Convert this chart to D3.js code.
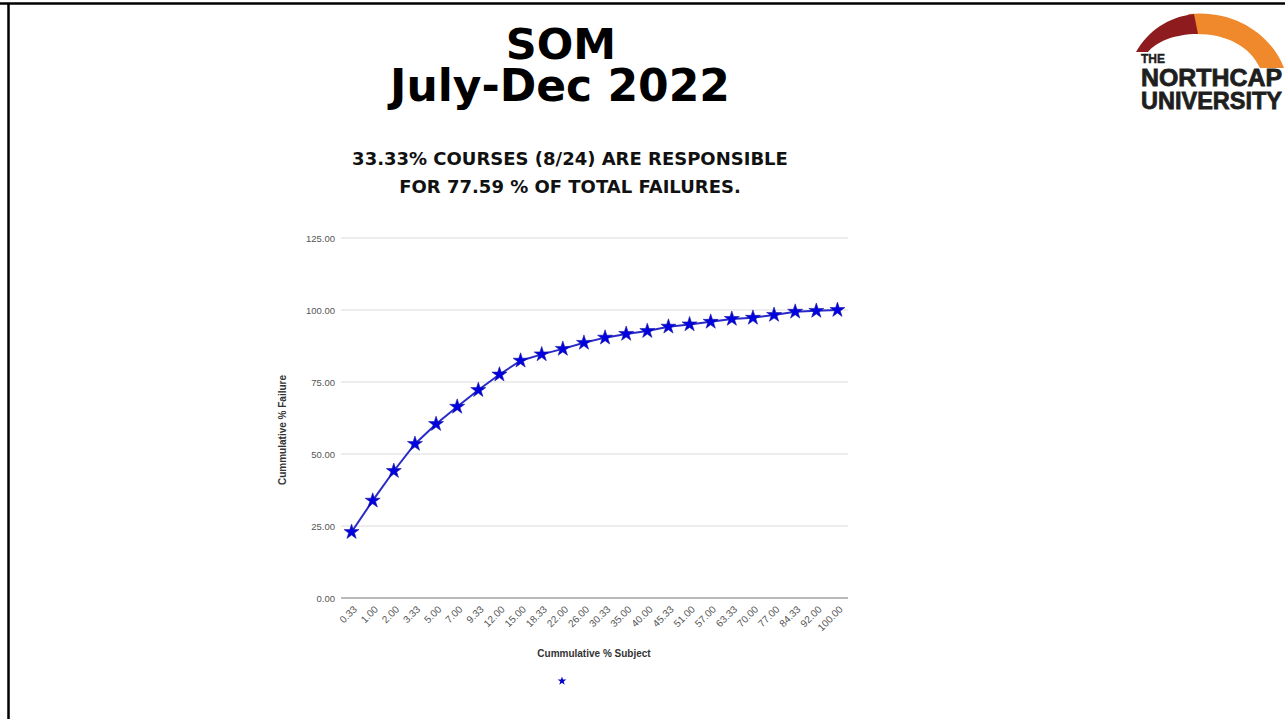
<!DOCTYPE html>
<html>
<head>
<meta charset="utf-8">
<script src="https://cdn.jsdelivr.net/npm/d3@7"></script>
<style>
  html, body { margin: 0; padding: 0; background: #fff; }
  svg { display: block; }
</style>
</head>
<body>
<svg id="slide" width="1285" height="719"></svg>
<script>
// Cumulative % of subjects (category labels on the x axis)
const subjectLabels = ["0.33", "1.00", "2.00", "3.33", "5.00", "7.00", "9.33", "12.00",
  "15.00", "18.33", "22.00", "26.00", "30.33", "35.00", "40.00", "45.33",
  "51.00", "57.00", "63.33", "70.00", "77.00", "84.33", "92.00", "100.00"];

// Cumulative % of failures for each subject step
const failureValues = [22.9, 33.8, 44.1, 53.5, 60.4, 66.4, 72.2, 77.59,
  82.4, 84.6, 86.5, 88.6, 90.4, 91.7, 92.7, 94.2,
  95.0, 95.9, 96.9, 97.3, 98.3, 99.4, 99.7, 100.0];

// Y axis tick values
const yTicks = [0, 25, 50, 75, 100, 125];

const titleLines = ["SOM", "July-Dec 2022"];
const noteLines = ["33.33% COURSES (8/24) ARE RESPONSIBLE", "FOR 77.59 % OF TOTAL FAILURES."];
const logoLines = ["NORTHCAP", "UNIVERSITY"];

const svg = d3.select("#slide");

// slide frame (top and left rule)
svg.append("line").attr("x1", 0).attr("x2", 1285).attr("y1", 3.5).attr("y2", 3.5)
  .attr("stroke", "#000").attr("stroke-width", 2.5);
svg.append("line").attr("x1", 8.5).attr("x2", 8.5).attr("y1", 3).attr("y2", 719)
  .attr("stroke", "#000").attr("stroke-width", 2.5);

// Title: one text block, two lines
const titleFont = "'DejaVu Sans', Verdana, sans-serif";
const title = svg.append("text")
  .attr("text-anchor", "middle").attr("font-family", titleFont)
  .attr("font-weight", "bold").attr("fill", "#000");
title.append("tspan").attr("x", 561).attr("y", 59).attr("font-size", 43).text(titleLines[0]);
title.append("tspan").attr("x", 560).attr("y", 101).attr("font-size", 44).text(titleLines[1]);

// Summary note
noteLines.forEach((t, i) => {
  svg.append("text").attr("x", 570).attr("y", 165 + i * 28)
    .attr("text-anchor", "middle").attr("font-family", titleFont)
    .attr("font-weight", "bold").attr("font-size", 18).attr("fill", "#111")
    .text(t);
});

// University logo
const logo = svg.append("g");
// orange arch
logo.append("path")
  .attr("d", "M1188,14 C1236,9 1272,36 1284,68 L1260,68 C1250,47 1228,34 1196,34 Z")
  .attr("fill", "#f0892c");
// dark red arch
logo.append("path")
  .attr("d", "M1136,52 C1148,31 1168,17 1194,14 L1198,34 C1174,34 1156,42 1148,52 Z")
  .attr("fill", "#8e1c1e");
const logoFont = "'Liberation Sans', Arial, sans-serif";
logo.append("text").attr("x", 1141).attr("y", 63)
  .attr("font-family", logoFont).attr("font-weight", "bold")
  .attr("font-size", 12).attr("fill", "#1e1e1e")
  .attr("stroke", "#1e1e1e").attr("stroke-width", 0.4).text("THE");
const logoName = logo.append("text")
  .attr("font-family", logoFont).attr("font-weight", "bold")
  .attr("font-size", 24).attr("fill", "#1e1e1e")
  .attr("stroke", "#1e1e1e").attr("stroke-width", 0.8);
logoLines.forEach((t, i) => {
  logoName.append("tspan").attr("x", 1141).attr("y", 86 + i * 23)
    .attr("textLength", 141).attr("lengthAdjust", "spacingAndGlyphs").text(t);
});

// Chart
const plot = { left: 341, right: 848, top: 238, bottom: 598 };
const chartFont = "'Liberation Sans', Arial, sans-serif";

const x = d3.scaleBand().domain(subjectLabels).range([plot.left, plot.right]);
const y = d3.scaleLinear().domain([0, 125]).range([plot.bottom, plot.top]);

// gridlines
svg.append("g").selectAll("line").data(yTicks).join("line")
  .attr("x1", plot.left).attr("x2", plot.right)
  .attr("y1", d => y(d)).attr("y2", d => y(d))
  .attr("stroke", d => d === 0 ? "#777" : "#dcdcdc")
  .attr("stroke-width", 1.2);

// y axis labels
const yAxis = d3.axisLeft(y).tickValues(yTicks).tickFormat(d3.format(".2f"))
  .tickSize(0).tickPadding(6);
const gy = svg.append("g").attr("transform", `translate(${plot.left},0)`).call(yAxis);
gy.select(".domain").remove();
gy.selectAll("text").attr("font-family", chartFont).attr("font-size", 9.5).attr("fill", "#555");

// x axis labels
const xAxis = d3.axisBottom(x).tickSize(0).tickPadding(0);
const gx = svg.append("g").attr("transform", `translate(0,${plot.bottom})`).call(xAxis);
gx.select(".domain").remove();
gx.selectAll("text")
  .attr("font-family", chartFont).attr("font-size", 10).attr("fill", "#555")
  .attr("text-anchor", "end")
  .attr("dy", 0)
  .attr("transform", "translate(6,12) rotate(-45)");

// axis titles
svg.append("text").attr("x", 594).attr("y", 657)
  .attr("text-anchor", "middle").attr("font-family", chartFont)
  .attr("font-weight", "bold").attr("font-size", 10).attr("fill", "#333")
  .text("Cummulative % Subject");
svg.append("text")
  .attr("transform", `translate(286,${(plot.top + plot.bottom) / 2 + 12}) rotate(-90)`)
  .attr("text-anchor", "middle").attr("font-family", chartFont)
  .attr("font-weight", "bold").attr("font-size", 10).attr("fill", "#333")
  .text("Cummulative % Failure");

// data line
const pts = subjectLabels.map((s, i) => ({ s, v: failureValues[i] }));
const line = d3.line().x(d => x(d.s) + x.bandwidth() / 2).y(d => y(d.v));
svg.append("path").datum(pts).attr("d", line)
  .attr("fill", "none").attr("stroke", "#2a2ac8").attr("stroke-width", 2);

// star markers
const star = d3.symbol().type(d3.symbolStar).size(70);
svg.append("g").selectAll("path").data(pts).join("path")
  .attr("d", star)
  .attr("transform", d => `translate(${x(d.s) + x.bandwidth() / 2},${y(d.v)})`)
  .attr("fill", "#0000e0").attr("stroke", "#1a1aa0").attr("stroke-width", 0.6);

// legend marker
svg.append("path").attr("d", d3.symbol().type(d3.symbolStar).size(24))
  .attr("transform", "translate(562,681)").attr("fill", "#0000cc");
</script>
</body>
</html>
